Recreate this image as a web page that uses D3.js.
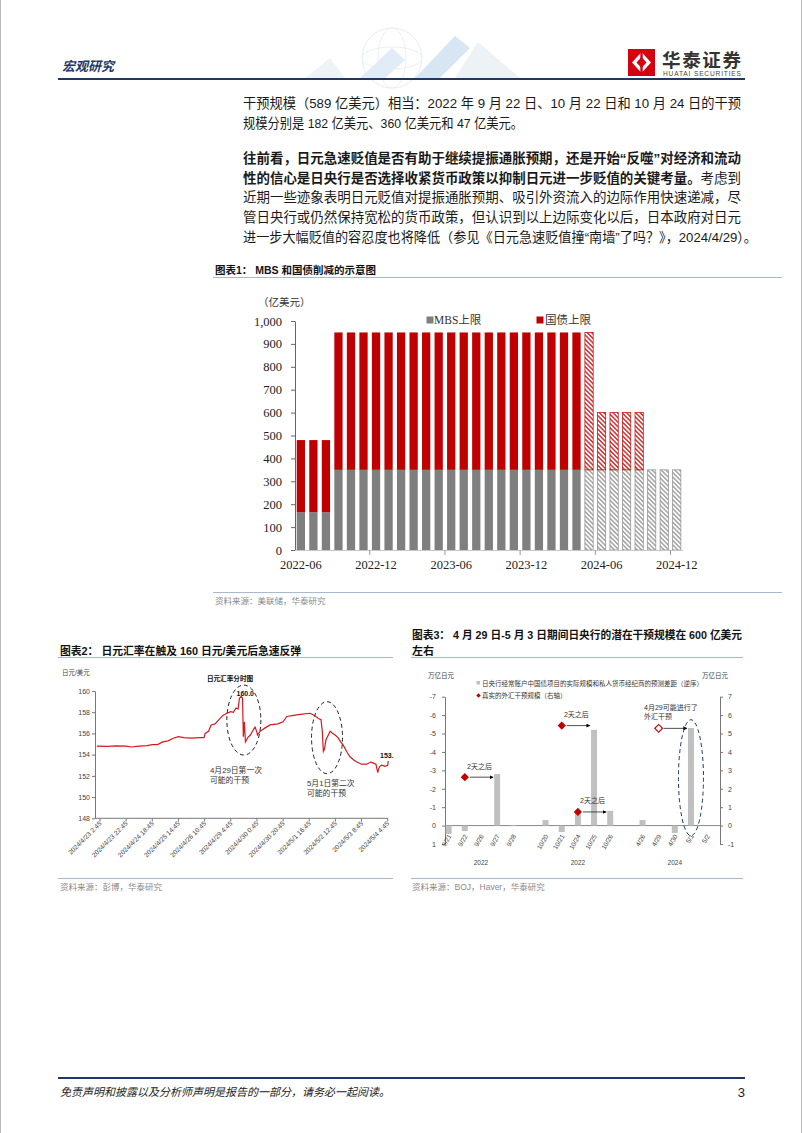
<!DOCTYPE html>
<meta charset="utf-8">
<style>
body { margin: 0; background: #fff; }
svg text { font-family: "Liberation Sans", "Noto Sans CJK SC", sans-serif; }
.serif text { font-family: "Liberation Serif", "Noto Sans CJK SC", serif; }
</style>
<svg width="802" height="1133"></svg>
<script src="https://d3js.org/d3.v7.min.js"></script>
<script>

/* ---------- data: chart 1 (Fed caps, 亿美元) ---------- */
var months = ["2022-06","2022-07","2022-08","2022-09","2022-10","2022-11","2022-12",
  "2023-01","2023-02","2023-03","2023-04","2023-05","2023-06","2023-07","2023-08","2023-09","2023-10","2023-11","2023-12",
  "2024-01","2024-02","2024-03","2024-04","2024-05","2024-06","2024-07","2024-08","2024-09","2024-10","2024-11","2024-12"];
var mbsCap = [165,165,165, 350,350,350,350, 350,350,350,350,350,350,350,350,350,350,350,350,
  350,350,350,350,350,350,350,350,350,350,350,350];
var ustCap = [315,315,315, 600,600,600,600, 600,600,600,600,600,600,600,600,600,600,600,600,
  600,600,600,600,600,250,250,250,250,0,0,0];
var firstProjected = "2024-05";
var capTicks = [0,100,200,300,400,500,600,700,800,900,1000];
var monthLabels = ["2022-06","2022-12","2023-06","2023-12","2024-06","2024-12"];

/* ---------- data: chart 2 (USDJPY intraday) ---------- */
var fxTickLabels = ["2024/4/23 2:45","2024/4/23 22:45","2024/4/24 18:45","2024/4/25 14:45",
  "2024/4/26 10:45","2024/4/29 4:45","2024/4/30 0:45","2024/4/30 20:45","2024/5/1 16:45",
  "2024/5/2 12:45","2024/5/3 8:45","2024/5/4 4:45"];
var fxPos = [-0.12,0.3,0.6,1.0,1.2,1.5,1.8,2.0,2.2,2.4,2.6,2.8,3.0,3.2,3.5,3.8,3.98,4.02,4.15,4.25,
  4.4,4.55,4.7,4.85,5.0,5.1,5.2,5.28,5.33,5.4,5.45,5.48,5.52,5.56,5.65,5.75,5.85,5.93,6.0,6.02,
  6.12,6.3,6.5,6.8,7.0,7.14,7.4,7.65,8.03,8.2,8.35,8.45,8.5,8.54,8.58,8.64,8.72,8.8,8.9,8.99,
  9.1,9.2,9.3,9.45,9.56,9.7,9.82,10.0,10.2,10.35,10.45,10.55,10.62,10.66,10.7,10.77,10.9,11.0,11.02];
var fxRate = [154.8,154.78,154.82,154.8,154.72,154.8,154.85,154.95,154.95,155.2,155.3,155.55,155.7,155.6,155.55,155.6,155.6,156.0,156.2,156.8,
  156.9,157.3,157.7,157.9,158.05,158.0,158.4,158.3,159.3,159.5,159.3,155.7,157.1,155.2,155.6,155.85,156.3,156.6,156.1,155.85,
  156.2,156.5,156.8,156.9,157.1,157.6,157.7,157.8,157.9,157.7,157.4,157.3,156.2,154.3,154.5,155.4,155.8,156.2,156.0,155.85,
  155.6,155.2,154.9,154.2,153.8,153.5,153.3,153.1,153.1,153.3,153.2,153.1,152.3,152.7,152.9,153.0,152.9,153.0,153.4];
var fxYTicks = [148,150,152,154,156,158,160];

/* ---------- data: chart 3 (BOJ, 万亿日元) ---------- */
var days = ["9/21","9/22","9/26","9/27","9/28"," ","10/20","10/21","10/24","10/25","10/26","  ","4/26","4/29","4/30","5/1","5/2"];
var gapSize = [0.45,0.3,0,-2.8,-0.03,null,-0.3,0.35,-0.65,-5.2,-0.8,null,-0.3,0,0.4,-5.3,0];
var dayYears = [["9/21","9/28","2022"],["10/20","10/26","2022"],["4/26","5/2","2024"]];
var intervDay = ["9/22","10/21","10/24","4/29"];
var intervSize = [2.63,5.43,0.74,5.28];
var intervLater = ["9/27","10/25","10/26","5/1"];
var intervConfirmed = [true,true,true,false];
var leftTicks = [-7,-6,-5,-4,-3,-2,-1,0,1];
var rightTicks = [7,6,5,4,3,2,1,0,-1];

var red = "#c00000", gray = "#7f7f7f", navy = "#1f3864", ruleBlue = "#a7b9cf";

var svg = d3.select("svg");
var defs = svg.append("defs");

function hatch(id, color) {
  var p = defs.append("pattern").attr("id", id).attr("patternUnits", "userSpaceOnUse")
    .attr("width", 3.2).attr("height", 3.2).attr("patternTransform", "rotate(-45)");
  p.append("rect").attr("width", 3.2).attr("height", 3.2).attr("fill", "#fff");
  p.append("line").attr("x1", 0.8).attr("y1", 0).attr("x2", 0.8).attr("y2", 3.2)
    .attr("stroke", color).attr("stroke-width", 1.2);
}
hatch("hatchRed", red);
hatch("hatchGray", "#8c8c8c");

defs.append("marker").attr("id", "arrow").attr("viewBox", "0 0 10 10")
  .attr("refX", 9).attr("refY", 5).attr("markerWidth", 5).attr("markerHeight", 5)
  .attr("orient", "auto")
  .append("path").attr("d", "M0,0L10,5L0,10z").attr("fill", "#000");

/* ---------- page frame, header, footer ---------- */
svg.append("line").attr("x1", 0.5).attr("x2", 0.5).attr("y1", 0).attr("y2", 1133).attr("stroke", "#bbb");
svg.append("line").attr("x1", 801.5).attr("x2", 801.5).attr("y1", 0).attr("y2", 1133).attr("stroke", "#bbb");

var wm = svg.append("g").attr("opacity", 0.55);
wm.append("circle").attr("cx", 392).attr("cy", 58).attr("r", 30).attr("fill", "none").attr("stroke", "#d5dde6");
wm.append("ellipse").attr("cx", 392).attr("cy", 58).attr("rx", 14).attr("ry", 30).attr("fill", "none").attr("stroke", "#dde3ea");
wm.append("ellipse").attr("cx", 392).attr("cy", 58).attr("rx", 30).attr("ry", 11).attr("fill", "none").attr("stroke", "#dde3ea");
wm.append("polygon").attr("points", "305,78 330,58 345,78").attr("fill", "#e3ebf3");
wm.append("polygon").attr("points", "415,78 455,36 470,48 440,78").attr("fill", "#b9d3ec");
wm.append("polygon").attr("points", "455,78 478,42 520,78").attr("fill", "#dfe8f1");
wm.append("polygon").attr("points", "360,78 392,48 405,60 385,78").attr("fill", "#c9ddf0");

svg.append("text").attr("x", 62).attr("y", 71).attr("font-size", 13).attr("font-weight", "bold")
  .attr("font-style", "italic").attr("fill", navy).text("宏观研究");
svg.append("line").attr("x1", 58).attr("x2", 745).attr("y1", 79).attr("y2", 79)
  .attr("stroke", navy).attr("stroke-width", 2);

var logo = svg.append("g").attr("transform", "translate(628,49)");
logo.append("rect").attr("width", 27).attr("height", 27).attr("fill", "#d7000f");
logo.append("path").attr("d", "M13.5,3 L23,13.5 L13.5,24 L4,13.5Z").attr("fill", "#fff");
logo.append("path").attr("d", "M13.5,8 L18.5,13.5 L13.5,19 L8.5,13.5Z").attr("fill", "#d7000f");
logo.append("rect").attr("x", 12.3).attr("y", 3).attr("width", 2.4).attr("height", 21).attr("fill", "#d7000f");
svg.append("text").attr("x", 662).attr("y", 67).attr("font-size", 18.5).attr("font-weight", "bold")
  .attr("fill", "#333").attr("textLength", 79).text("华泰证券");
svg.append("text").attr("x", 663).attr("y", 76).attr("font-size", 6.6).attr("fill", "#444")
  .attr("textLength", 78).text("HUATAI SECURITIES");

svg.append("line").attr("x1", 58).attr("x2", 745).attr("y1", 1078).attr("y2", 1078)
  .attr("stroke", navy).attr("stroke-width", 2);
svg.append("text").attr("x", 60).attr("y", 1096).attr("font-size", 11).attr("font-style", "italic")
  .attr("fill", "#222").text("免责声明和披露以及分析师声明是报告的一部分，请务必一起阅读。");
svg.append("text").attr("x", 745).attr("y", 1097).attr("font-size", 13).attr("text-anchor", "end")
  .attr("fill", "#222").text("3");

/* ---------- body text ---------- */
var body = [
  {y: 108, len: 498, parts: [["干预规模（589 亿美元）相当：2022 年 9 月 22 日、10 月 22 日和 10 月 24 日的干预", false]]},
  {y: 128, len: 280, parts: [["规模分别是 182 亿美元、360 亿美元和 47 亿美元。", false]]},
  {y: 163, len: 498, parts: [["往前看，日元急速贬值是否有助于继续提振通胀预期，还是开始“反噬”对经济和流动", true]]},
  {y: 183, len: 498, parts: [["性的信心是日央行是否选择收紧货币政策以抑制日元进一步贬值的关键考量。", true], ["考虑到", false]]},
  {y: 202, len: 498, parts: [["近期一些迹象表明日元贬值对提振通胀预期、吸引外资流入的边际作用快速递减，尽", false]]},
  {y: 222, len: 498, parts: [["管日央行或仍然保持宽松的货币政策，但认识到以上边际变化以后，日本政府对日元", false]]},
  {y: 242, len: 514, parts: [["进一步大幅贬值的容忍度也将降低（参见《日元急速贬值撞“南墙”了吗？》，2024/4/29）。", false]]}
];
body.forEach(function(l) {
  var t = svg.append("text").attr("x", 243).attr("y", l.y).attr("font-size", 13.5)
    .attr("fill", "#1a1a1a").attr("textLength", l.len).attr("lengthAdjust", "spacingAndGlyphs");
  l.parts.forEach(function(p) {
    t.append("tspan").attr("font-weight", p[1] ? "bold" : "normal").text(p[0]);
  });
});

/* ---------- chart 1 ---------- */
svg.append("text").attr("x", 215).attr("y", 274).attr("font-size", 10.5).attr("font-weight", "bold")
  .attr("fill", "#111").text("图表1：  MBS 和国债削减的示意图");
svg.append("line").attr("x1", 213).attr("x2", 782).attr("y1", 277.5).attr("y2", 277.5).attr("stroke", ruleBlue);

var c1 = svg.append("g").attr("class", "serif");
var x1 = d3.scaleBand().domain(months).range([294.6, 683]).paddingInner(0.34).paddingOuter(0.17);
var y1 = d3.scaleLinear().domain([0, 1000]).range([550, 321]);
var proj = months.indexOf(firstProjected);

var yAx1 = c1.append("g").attr("transform", "translate(295,0)")
  .call(d3.axisLeft(y1).tickValues(capTicks).tickFormat(d3.format(",")).tickSize(4).tickSizeOuter(0));
yAx1.select(".domain").attr("stroke", "#666");
yAx1.selectAll(".tick line").attr("stroke", "#666");
yAx1.selectAll("text").attr("font-size", 12.5).attr("fill", "#222").attr("x", -13);

c1.append("text").attr("x", 258).attr("y", 306).attr("font-size", 10.5).attr("fill", "#333").text("（亿美元）");

c1.selectAll(".mbs").data(months).enter().append("rect")
  .attr("x", function(d) { return x1(d); })
  .attr("y", function(d, i) { return y1(mbsCap[i]); })
  .attr("width", x1.bandwidth())
  .attr("height", function(d, i) { return y1(0) - y1(mbsCap[i]); })
  .attr("fill", function(d, i) { return i >= proj ? "url(#hatchGray)" : gray; })
  .attr("stroke", function(d, i) { return i >= proj ? "#8c8c8c" : "none"; })
  .attr("stroke-width", 0.7);

c1.selectAll(".ust").data(months.filter(function(d, i) { return ustCap[i] > 0; })).enter().append("rect")
  .attr("x", function(d) { return x1(d); })
  .attr("y", function(d) { var i = months.indexOf(d); return y1(mbsCap[i] + ustCap[i]); })
  .attr("width", x1.bandwidth())
  .attr("height", function(d) { var i = months.indexOf(d); return y1(mbsCap[i]) - y1(mbsCap[i] + ustCap[i]); })
  .attr("fill", function(d) { return months.indexOf(d) >= proj ? "url(#hatchRed)" : red; })
  .attr("stroke", function(d) { return months.indexOf(d) >= proj ? red : "none"; })
  .attr("stroke-width", 0.7);

c1.append("line").attr("x1", 295).attr("x2", 683).attr("y1", 550.5).attr("y2", 550.5).attr("stroke", "#c8c8c8");
c1.selectAll(".xt").data(monthLabels.slice(1)).enter().append("line")
  .attr("x1", function(d) { return x1(d) - x1.step() * 0.17; })
  .attr("x2", function(d) { return x1(d) - x1.step() * 0.17; })
  .attr("y1", 550).attr("y2", 555).attr("stroke", "#999");
c1.selectAll(".xl").data(monthLabels).enter().append("text")
  .attr("x", function(d) { return x1(d) + x1.bandwidth() / 2; })
  .attr("y", 569).attr("text-anchor", "middle").attr("font-size", 12.5).attr("fill", "#222")
  .text(function(d) { return d; });

c1.append("rect").attr("x", 426.5).attr("y", 316.5).attr("width", 7).attr("height", 7).attr("fill", gray);
c1.append("text").attr("x", 434).attr("y", 323.5).attr("font-size", 11.5).attr("fill", "#333").text("MBS上限");
c1.append("rect").attr("x", 536.5).attr("y", 316.5).attr("width", 7).attr("height", 7).attr("fill", red);
c1.append("text").attr("x", 545).attr("y", 323.5).attr("font-size", 11.5).attr("fill", "#333").text("国债上限");

svg.append("line").attr("x1", 213).attr("x2", 782).attr("y1", 592.5).attr("y2", 592.5).attr("stroke", ruleBlue);
svg.append("text").attr("x", 215).attr("y", 604).attr("font-size", 8.5).attr("fill", "#8a8a8a").text("资料来源：美联储，华泰研究");

/* ---------- chart 2 ---------- */
svg.append("text").attr("x", 60).attr("y", 655).attr("font-size", 10.8).attr("font-weight", "bold")
  .attr("fill", "#111").text("图表2：  日元汇率在触及 160 日元/美元后急速反弹");
svg.append("line").attr("x1", 58).attr("x2", 393).attr("y1", 657.5).attr("y2", 657.5).attr("stroke", ruleBlue);

var c2 = svg.append("g");
var x2 = d3.scaleLinear().domain([0, 11]).range([100, 387.7]);
var y2 = d3.scaleLinear().domain([148, 160]).range([818.3, 691]);

var yAx2 = c2.append("g").attr("transform", "translate(95,0)")
  .call(d3.axisLeft(y2).tickValues(fxYTicks).tickSize(3).tickSizeOuter(0));
yAx2.select(".domain").attr("stroke", "#777");
yAx2.selectAll(".tick line").attr("stroke", "#777");
yAx2.selectAll("text").attr("font-size", 7).attr("fill", "#444").attr("x", -5);

c2.append("line").attr("x1", 95).attr("x2", 388).attr("y1", 818.3).attr("y2", 818.3).attr("stroke", "#777");
c2.selectAll(".t2").data(fxTickLabels).enter().append("line")
  .attr("x1", function(d, i) { return x2(i); }).attr("x2", function(d, i) { return x2(i); })
  .attr("y1", 818.3).attr("y2", 821.5).attr("stroke", "#777");
c2.selectAll(".l2").data(fxTickLabels).enter().append("text")
  .attr("transform", function(d, i) { return "translate(" + (x2(i) + 2) + ",824) rotate(-45)"; })
  .attr("text-anchor", "end").attr("font-size", 6.6).attr("fill", "#444")
  .text(function(d) { return d; });

c2.append("text").attr("x", 62).attr("y", 675).attr("font-size", 6.5).attr("fill", "#444").text("日元/美元");

var fxLine = d3.line().x(function(d) { return x2(d); }).y(function(d, i) { return y2(fxRate[i]); });
c2.append("path").datum(fxPos).attr("d", fxLine).attr("fill", "none")
  .attr("stroke", "#d7191c").attr("stroke-width", 1.2);

c2.append("ellipse").attr("cx", x2(5.5)).attr("cy", y2(157.26)).attr("rx", 17).attr("ry", 35)
  .attr("fill", "none").attr("stroke", "#222").attr("stroke-dasharray", "4,3").attr("stroke-width", 1);
c2.append("ellipse").attr("cx", x2(8.68)).attr("cy", y2(155.6)).attr("rx", 15.5).attr("ry", 36)
  .attr("fill", "none").attr("stroke", "#222").attr("stroke-dasharray", "4,3").attr("stroke-width", 1);

c2.append("text").attr("x", 230).attr("y", 680.5).attr("text-anchor", "middle").attr("font-size", 6.6)
  .attr("font-weight", "bold").attr("fill", "#111").text("日元汇率分时图");
c2.append("text").attr("x", 236.5).attr("y", 696).attr("font-size", 7).attr("font-weight", "bold")
  .attr("fill", "#111").text("160.0");
c2.append("text").attr("x", 380).attr("y", 757.5).attr("font-size", 7).attr("font-weight", "bold")
  .attr("fill", "#111").text("153.");
c2.append("text").attr("x", 210).attr("y", 773).attr("font-size", 7.8).attr("fill", "#333").text("4月29日第一次");
c2.append("text").attr("x", 210).attr("y", 782.5).attr("font-size", 7.8).attr("fill", "#333").text("可能的干预");
c2.append("text").attr("x", 307).attr("y", 786).attr("font-size", 7.8).attr("fill", "#333").text("5月1日第二次");
c2.append("text").attr("x", 307).attr("y", 796).attr("font-size", 7.8).attr("fill", "#333").text("可能的干预");

svg.append("line").attr("x1", 58).attr("x2", 393).attr("y1", 878.5).attr("y2", 878.5).attr("stroke", ruleBlue);
svg.append("text").attr("x", 60).attr("y", 890).attr("font-size", 8.5).attr("fill", "#8a8a8a").text("资料来源：彭博，华泰研究");

/* ---------- chart 3 ---------- */
svg.append("text").attr("x", 412).attr("y", 639).attr("font-size", 11).attr("font-weight", "bold")
  .attr("fill", "#111").attr("textLength", 330).attr("lengthAdjust", "spacingAndGlyphs")
  .text("图表3：  4 月 29 日-5 月 3 日期间日央行的潜在干预规模在 600 亿美元");
svg.append("text").attr("x", 412).attr("y", 655).attr("font-size", 11).attr("font-weight", "bold")
  .attr("fill", "#111").text("左右");
svg.append("line").attr("x1", 411).attr("x2", 743).attr("y1", 657.5).attr("y2", 657.5).attr("stroke", ruleBlue);

var c3 = svg.append("g");
var x3 = d3.scaleBand().domain(days).range([440.6, 715.2]).paddingInner(0.63).paddingOuter(0.315);
var yL = d3.scaleLinear().domain([1, -7]).range([844, 696.7]);
var yR = d3.scaleLinear().domain([-1, 7]).range([844, 696.7]);
var mid = function(d) { return x3(d) + x3.bandwidth() / 2; };

var lAx = c3.append("g").attr("transform", "translate(445,0)")
  .call(d3.axisLeft(yL).tickValues(leftTicks).tickFormat(function(d) { return String(d); }).tickSize(3).tickSizeOuter(0));
var rAx = c3.append("g").attr("transform", "translate(720,0)")
  .call(d3.axisRight(yR).tickValues(rightTicks).tickFormat(function(d) { return String(d); }).tickSize(3).tickSizeOuter(0));
[lAx, rAx].forEach(function(a) {
  a.select(".domain").attr("stroke", "#777");
  a.selectAll(".tick line").attr("stroke", "#777");
  a.selectAll("text").attr("font-size", 7).attr("fill", "#444");
});
lAx.selectAll("text").attr("x", -9);
rAx.selectAll("text").attr("x", 8);

c3.append("line").attr("x1", 445).attr("x2", 720).attr("y1", yL(0)).attr("y2", yL(0)).attr("stroke", "#888");

c3.selectAll(".b3").data(days.filter(function(d, i) { return gapSize[i]; })).enter().append("rect")
  .attr("x", function(d) { return x3(d); })
  .attr("y", function(d) { return Math.min(yL(gapSize[days.indexOf(d)]), yL(0)); })
  .attr("width", x3.bandwidth())
  .attr("height", function(d) { return Math.abs(yL(gapSize[days.indexOf(d)]) - yL(0)); })
  .attr("fill", "#c0c0c0");

c3.selectAll(".l3").data(days.filter(function(d) { return d.trim(); })).enter().append("text")
  .attr("transform", function(d) { return "translate(" + (mid(d) + 3) + ",836) rotate(-60)"; })
  .attr("text-anchor", "end").attr("font-size", 6.5).attr("fill", "#444")
  .text(function(d) { return d; });
c3.selectAll(".yr").data(dayYears).enter().append("text")
  .attr("x", function(d) { return (mid(d[0]) + mid(d[1])) / 2; })
  .attr("y", 865).attr("text-anchor", "middle").attr("font-size", 6.5).attr("fill", "#444")
  .text(function(d) { return d[2]; });

intervDay.forEach(function(d, i) {
  var cx = mid(d), cy = yR(intervSize[i]);
  c3.append("line").attr("x1", cx + 5).attr("x2", x3(intervLater[i]) - 1)
    .attr("y1", cy).attr("y2", cy).attr("stroke", "#222").attr("stroke-width", 0.8)
    .attr("marker-end", "url(#arrow)");
  c3.append("path").attr("d", d3.symbol(d3.symbolSquare, intervConfirmed[i] ? 34 : 30)())
    .attr("transform", "translate(" + cx + "," + cy + ") rotate(45)")
    .attr("fill", intervConfirmed[i] ? red : "#fff")
    .attr("stroke", red).attr("stroke-width", intervConfirmed[i] ? 0 : 1.2);
  if (intervConfirmed[i]) {
    c3.append("text").attr("x", (cx + x3(intervLater[i])) / 2).attr("y", cy - 8.5)
      .attr("text-anchor", "middle").attr("font-size", 7).attr("fill", "#333").text("2天之后");
  }
});
c3.append("text").attr("x", 644).attr("y", 709.5).attr("font-size", 7).attr("fill", "#333").text("4月29可能进行了");
c3.append("text").attr("x", 644).attr("y", 718.5).attr("font-size", 7).attr("fill", "#333").text("外汇干预");

c3.append("ellipse").attr("cx", mid("5/1")).attr("cy", yL(-2.6)).attr("rx", 12.5).attr("ry", 58)
  .attr("fill", "none").attr("stroke", "#1f3864").attr("stroke-dasharray", "4,3").attr("stroke-width", 1);

c3.append("rect").attr("x", 476.5).attr("y", 681).attr("width", 3.5).attr("height", 3.5).attr("fill", "#c0c0c0");
c3.append("text").attr("x", 482).attr("y", 685.5).attr("font-size", 6.5).attr("fill", "#333")
  .text("日央行经常账户中国债项目的实际规模和私人货币经纪商的预测差距（逆序）");
c3.append("path").attr("d", d3.symbol(d3.symbolSquare, 10)())
  .attr("transform", "translate(478.5,695.5) rotate(45)").attr("fill", red);
c3.append("text").attr("x", 482).attr("y", 698).attr("font-size", 6.5).attr("fill", "#333")
  .text("真实的外汇干预规模（右轴）");
c3.append("text").attr("x", 428).attr("y", 678).attr("font-size", 6.5).attr("fill", "#444").text("万亿日元");
c3.append("text").attr("x", 728).attr("y", 678).attr("text-anchor", "end").attr("font-size", 6.5).attr("fill", "#444").text("万亿日元");

svg.append("line").attr("x1", 411).attr("x2", 743).attr("y1", 878.5).attr("y2", 878.5).attr("stroke", ruleBlue);
svg.append("text").attr("x", 412).attr("y", 890).attr("font-size", 8.5).attr("fill", "#8a8a8a").text("资料来源：BOJ，Haver，华泰研究");

</script>
